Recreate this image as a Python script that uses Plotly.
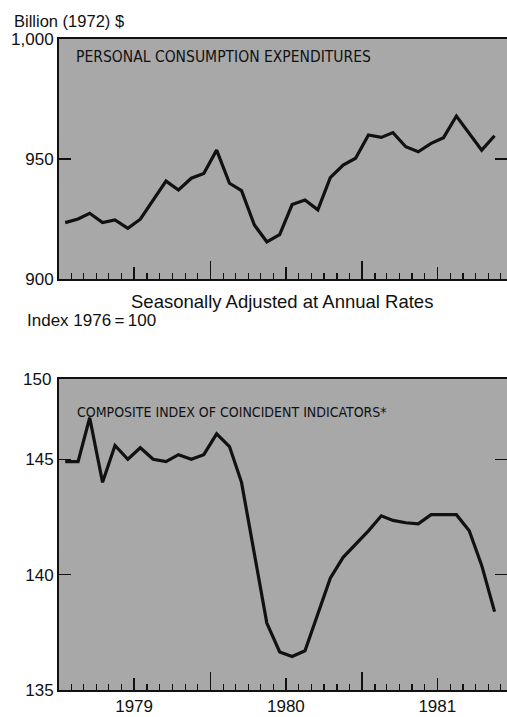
import plotly.graph_objects as go

# ---- data (monthly, Jan 1979 - Nov 1981) ----
months = [f"{y}-{m:02d}-16" for y in (1979, 1980, 1981) for m in range(1, 13)][:35]

pce = [923.5, 925.0, 927.4, 923.5, 924.6, 921.1, 924.9, 932.8, 940.8, 937.1, 942.0, 944.0,
       953.7, 939.9, 936.8, 922.5, 915.5, 918.5, 931.0, 932.9, 928.8, 942.2, 947.5, 950.3,
       960.0, 959.0, 961.0, 955.1, 953.0, 956.5, 958.9, 967.9, 960.7, 953.7, 959.7]

cci = [144.9, 144.9, 146.8, 144.0, 145.6, 145.0, 145.5, 145.0, 144.9, 145.2, 145.0, 145.2,
       146.1, 145.55, 144.0, 140.9, 137.9, 136.65, 136.45, 136.7, 138.25, 139.85, 140.75, 141.3,
       141.9, 142.55, 142.35, 142.25, 142.2, 142.6, 142.6, 142.6, 141.9, 140.4, 138.4]

year_mid = ["1979-07-01", "1980-07-01", "1981-07-01"]
year_labels = ["1979", "1980", "1981"]
pce_ticks = [900, 950, 1000]
pce_ticktext = ["900", "950", "1,000"]
cci_ticks = [135, 140, 145]

XMIN, XMAX = "1979-01-01", "1981-12-16"
W, H = 507, 717
GRAY = "#a8a8a8"
INK = "#111111"
FONT = "Liberation Sans, Arial, Helvetica, sans-serif"
NARROW = "Liberation Sans Narrow, DejaVu Sans Condensed, sans-serif"

def px(x):
    return x / W

def py(y):
    return 1 - y / H

X0 = px(59)
top_dom = [py(279), py(39)]
bot_dom = [py(690), py(379)]

fig = go.Figure()
fig.add_trace(go.Scatter(x=months, y=pce, mode="lines", line=dict(color=INK, width=3.2),
                         xaxis="x", yaxis="y", hoverinfo="skip"))
fig.add_trace(go.Scatter(x=months, y=cci, mode="lines", line=dict(color=INK, width=3.2),
                         xaxis="x2", yaxis="y2", hoverinfo="skip"))
# empty traces so the overlay tick axes get drawn
fig.add_trace(go.Scatter(x=[], y=[], xaxis="x3", yaxis="y", showlegend=False))
fig.add_trace(go.Scatter(x=[], y=[], xaxis="x4", yaxis="y2", showlegend=False))

def main_x(anchor):
    return dict(domain=[X0, 1], anchor=anchor, type="date", range=[XMIN, XMAX],
                tickmode="linear", tick0="1979-01-01", dtick="M12",
                ticks="inside", ticklen=18, tickwidth=1.5, tickcolor=INK,
                showticklabels=False, showline=True, linecolor=INK, linewidth=2,
                mirror=True, showgrid=False, zeroline=False, automargin=False,
                minor=dict(ticks="inside", tick0="1979-01-01", dtick="M1", ticklen=6,
                           tickwidth=1.2, tickcolor=INK, showgrid=False))

def mid_x(over, anchor, labels):
    return dict(overlaying=over, anchor=anchor, type="date", range=[XMIN, XMAX],
                tickmode="array", tickvals=year_mid, ticktext=year_labels,
                ticks="inside", ticklen=12, tickwidth=1.5, tickcolor=INK,
                showticklabels=labels, showline=False, showgrid=False, zeroline=False,
                automargin=False,
                tickfont=dict(family=FONT, size=17, color=INK), ticklabelstandoff=4)

def yax(dom, anchor, rng, vals, text):
    return dict(domain=dom, anchor=anchor, range=rng, tickmode="array",
                tickvals=vals, ticktext=text, ticks="inside", ticklen=12, tickwidth=1.5,
                tickcolor=INK, showline=True, linecolor=INK, linewidth=2, mirror="ticks",
                showgrid=False, zeroline=False, ticklabelstandoff=0, automargin=False,
                tickfont=dict(family=FONT, size=17, color=INK))

fig.update_layout(
    template="none",
    width=W, height=H, margin=dict(l=0, r=0, t=0, b=0, pad=0, autoexpand=False),
    paper_bgcolor="white", plot_bgcolor=GRAY, showlegend=False, hovermode=False,
    xaxis=main_x("y"), xaxis2=main_x("y2"),
    xaxis3=mid_x("x", "y", False), xaxis4=mid_x("x2", "y2", True),
    yaxis=yax(top_dom, "x", [900, 1000], pce_ticks, pce_ticktext),
    yaxis2=yax(bot_dom, "x2", [135, 148.48], cci_ticks, [str(v) for v in cci_ticks]),
)

def ann(text, x, y, size, xanchor="left", family=FONT):
    fig.add_annotation(text=text, xref="paper", yref="paper", x=px(x), y=py(y),
                       xanchor=xanchor, yanchor="middle", showarrow=False,
                       font=dict(family=family, size=size, color=INK))

ann("Billion (1972) $", 12, 21, 16.5)
ann("PERSONAL CONSUMPTION EXPENDITURES", 74, 57.5, 15.5, family=NARROW)
ann("Seasonally Adjusted at Annual Rates", 282, 301.5, 18.5, xanchor="center")
ann("Index 1976\u2009=\u2009100", 25, 320, 17)
ann("150", 53, 379, 17, xanchor="right")
ann("COMPOSITE INDEX OF COINCIDENT INDICATORS*", 75, 411.5, 14, family=NARROW)

# remove the default 8px page margin so the 507x717 figure fills the window exactly
fig.write_html("out.html",
               config={"displayModeBar": False, "staticPlot": True},
               post_script="document.body.style.margin='0';"
                           "document.body.style.overflow='hidden';")
